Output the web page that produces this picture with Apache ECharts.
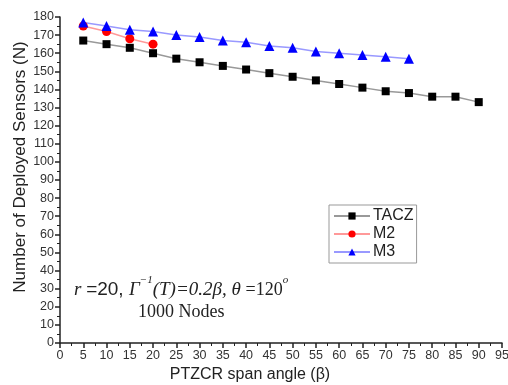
<!DOCTYPE html>
<html>
<head>
<meta charset="utf-8">
<script src="https://cdn.jsdelivr.net/npm/echarts@6/dist/echarts.min.js"></script>
<style>
  html, body { margin: 0; padding: 0; background: #fff; }
  #chart { width: 508px; height: 385px; }
</style>
</head>
<body>
<div id="chart"></div>
<script>
// span angle (beta)
const taczAngles = [5, 10, 15, 20, 25, 30, 35, 40, 45, 50, 55, 60, 65, 70, 75, 80, 85, 90];
const taczValues = [167, 165, 163, 160, 157, 155, 153, 151, 149, 147, 145, 143, 141, 139, 138, 136, 136, 133];
const m2Angles = [5, 10, 15, 20];
const m2Values = [175, 172, 168, 165];
const m3Angles = [5, 10, 15, 20, 25, 30, 35, 40, 45, 50, 55, 60, 65, 70, 75];
const m3Values = [177, 175, 173, 172, 170, 169, 167, 166, 164, 163, 161, 160, 159, 158, 157];

const pairs = (xs, ys) => xs.map((x, i) => [x, ys[i]]);

const chart = echarts.init(document.getElementById("chart"));

const axisCommon = {
  axisLine: { show: true, lineStyle: { color: "#222", width: 1.5 } },
  axisTick: { show: true, inside: false, length: 5, lineStyle: { color: "#222", width: 1.5 } },
  minorTick: { show: true, splitNumber: 2, length: 3, lineStyle: { color: "#222", width: 1 } },
  splitLine: { show: false },
  axisLabel: { color: "#333", fontFamily: "Arial", fontSize: 12.5, margin: 6 },
};

const option = {
  animation: false,
  grid: { left: 60, right: 6, top: 17, bottom: 42, outerBoundsMode: "none" },
  xAxis: {
    type: "value",
    min: 0,
    max: 95,
    interval: 5,
    ...axisCommon,
    name: "PTZCR span angle (\u03b2)",
    nameLocation: "middle",
    nameGap: 24,
    nameTextStyle: { color: "#222", fontFamily: "Arial", fontSize: 16, padding: [0, 62, 0, 0] },
  },
  yAxis: {
    type: "value",
    min: 0,
    max: 180,
    interval: 10,
    ...axisCommon,
    name: "Number of Deployed Sensors (N)",
    nameLocation: "middle",
    nameMoveOverlap: false,
    nameGap: 31,
    nameTextStyle: { color: "#222", fontFamily: "Arial", fontSize: 17, padding: [0, 0, 0, 26] },
  },
  legend: {
    orient: "vertical",
    left: 329,
    top: 205,
    width: 85,
    padding: [3, 3, 3, 4],
    itemGap: 2,
    itemWidth: 36,
    itemHeight: 9,
    borderColor: "#999",
    borderWidth: 1,
    textStyle: { color: "#222", fontFamily: "Arial", fontSize: 16, padding: [0, 0, 0, -2] },
    data: ["TACZ", "M2", "M3"],
  },
  series: [
    {
      name: "TACZ",
      type: "line",
      data: pairs(taczAngles, taczValues),
      symbol: "rect",
      symbolSize: 8,
      itemStyle: { color: "#000" },
      lineStyle: { color: "#999", width: 1.5 },
    },
    {
      name: "M2",
      type: "line",
      data: pairs(m2Angles, m2Values),
      symbol: "circle",
      symbolSize: 9,
      itemStyle: { color: "#f00" },
      lineStyle: { color: "#ff9999", width: 1.5 },
    },
    {
      name: "M3",
      type: "line",
      data: pairs(m3Angles, m3Values),
      symbol: "triangle",
      symbolSize: 10,
      itemStyle: { color: "#0000ff" },
      lineStyle: { color: "#9999ff", width: 1.5 },
    },
  ],
  graphic: [
    {
      type: "text",
      left: 74,
      top: 275,
      style: {
        text: "{i|r }{n|=20, }{i|\u0393}{sup|\u22121}{i|(T)=0.2\u03b2, \u03b8 }{t|=120}{sup|o}",
        rich: {
          i: { fontFamily: "Liberation Serif", fontStyle: "italic", fontSize: 19, fill: "#222", lineHeight: 24, verticalAlign: "bottom" },
          n: { fontFamily: "Arial", fontSize: 19, fill: "#222", lineHeight: 24, verticalAlign: "bottom" },
          t: { fontFamily: "Liberation Serif", fontSize: 18, fill: "#222", lineHeight: 24, verticalAlign: "bottom" },
          sup: { fontFamily: "Liberation Serif", fontStyle: "italic", fontSize: 11, fill: "#222", lineHeight: 24, verticalAlign: "top" },
        },
      },
    },
    {
      type: "text",
      left: 138,
      top: 303,
      style: {
        text: "1000 Nodes",
        fontFamily: "Liberation Serif",
        fontSize: 18,
        fill: "#222",
      },
    },
  ],
};

chart.setOption(option);
</script>
</body>
</html>
